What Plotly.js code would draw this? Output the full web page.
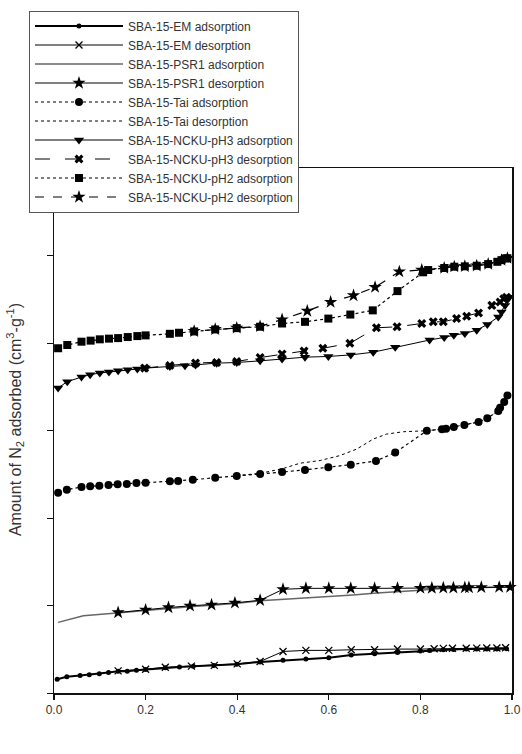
<!DOCTYPE html>
<html>
<head>
<meta charset="utf-8">
<script src="https://cdn.plot.ly/plotly-3.0.1.min.js"></script>
<style>
  html, body { margin: 0; padding: 0; background: #ffffff; }
  #chart { width: 522px; height: 754px; }
</style>
</head>
<body>
<div id="chart"></div>
<script>
// ---------- data (relative pressure P/P0, amount adsorbed in arbitrary units) ----------
const seriesNames = [
  "SBA-15-EM adsorption",
  "SBA-15-EM desorption",
  "SBA-15-PSR1 adsorption",
  "SBA-15-PSR1 desorption",
  "SBA-15-Tai adsorption",
  "SBA-15-Tai desorption",
  "SBA-15-NCKU-pH3 adsorption",
  "SBA-15-NCKU-pH3 desorption",
  "SBA-15-NCKU-pH2 adsorption",
  "SBA-15-NCKU-pH2 desorption"
];

const emAdsX = [0.007,0.028,0.057,0.077,0.099,0.119,0.14,0.16,0.18,0.20,0.243,0.274,0.304,0.349,0.399,0.45,0.50,0.55,0.60,0.649,0.70,0.75,0.80,0.82,0.85,0.872,0.90,0.923,0.945,0.967,0.988];
const emAdsY = [15.8,18.5,20,21,22,23.4,24.9,25,26,26.8,29,29.8,30.5,31.3,32.8,35.5,37.4,38.9,40.4,43.4,44.9,46.4,47.9,48.7,49.4,49.8,50.2,50.2,50.3,50.4,50.5];

const emDesX = [0.986,0.967,0.945,0.923,0.90,0.87,0.85,0.83,0.80,0.75,0.70,0.649,0.60,0.55,0.50,0.45,0.40,0.35,0.30,0.243,0.20,0.14];
const emDesY = [51.7,51.5,51.4,51.3,51.2,51.1,51.0,50.6,50.2,50.2,49.4,49.4,48.7,48.7,47.5,36.0,33.3,31.6,30.7,29.4,27.2,25.3];

const psrAdsX = [0.009,0.035,0.064,0.137,0.20,0.25,0.297,0.344,0.395,0.45,0.51,0.552,0.603,0.653,0.705,0.755,0.80,0.828,0.90,0.996];
const psrAdsY = [80.7,84.5,88.3,91.4,94.7,96.6,98.5,100.4,102.2,105.3,107.2,108.3,110.6,112,114.3,115.8,117.4,118.9,120.3,121.1];

const psrDesX = [0.996,0.972,0.933,0.906,0.897,0.872,0.85,0.825,0.80,0.75,0.70,0.648,0.60,0.55,0.50,0.45,0.395,0.344,0.297,0.25,0.20,0.14];
const psrDesY = [121,121,120.8,120.6,120.5,120.3,120.2,120,119.8,119.8,119.6,119.6,119.6,119.6,118.5,106,103,100.8,99.6,97.7,95,92];

const taiAdsX = [0.009,0.028,0.06,0.079,0.099,0.119,0.139,0.159,0.18,0.20,0.253,0.271,0.303,0.352,0.399,0.45,0.498,0.548,0.599,0.648,0.703,0.745,0.814,0.847,0.856,0.873,0.896,0.927,0.946,0.97,0.974,0.983,0.99];
const taiAdsY = [229,232.4,235.5,236.3,237,237.7,238.5,238.9,240,240.3,241.9,242.3,243.7,246,247.9,250.2,252.5,255,258,261,265.2,274.8,299.7,301.5,302,304,306.3,309.7,313.9,322.3,326,332.5,340];

const taiDesX = [0.99,0.983,0.97,0.946,0.927,0.896,0.873,0.847,0.814,0.763,0.726,0.697,0.661,0.624,0.581,0.537,0.50,0.45,0.40];
const taiDesY = [340,332.5,322.3,313.9,309.7,306.3,304,301.5,299.7,298.6,295.9,290.2,278.8,271.3,265.7,262.6,256.5,251,248.5];

const ph3AdsX = [0.009,0.029,0.06,0.079,0.10,0.12,0.14,0.161,0.182,0.20,0.253,0.286,0.309,0.355,0.399,0.45,0.498,0.548,0.599,0.648,0.697,0.745,0.82,0.852,0.873,0.897,0.923,0.946,0.97,0.977,0.985,0.99,0.993];
const ph3AdsY = [348.7,355.8,361.1,363.8,365.7,366.8,368.3,369.4,370.2,371.3,373.2,373.9,375,377,377.7,379.6,381.8,383.8,384.6,386.4,389.5,395.1,403.4,406.4,409,411,414.7,421.1,429.8,435.4,443,449.4,452.4];

const ph3DesX = [0.988,0.982,0.974,0.956,0.927,0.901,0.879,0.85,0.828,0.803,0.749,0.704,0.646,0.587,0.546,0.498,0.45,0.399,0.355,0.309,0.253,0.198];
const ph3DesY = [452.4,450.6,446.9,443,434.4,430.5,427.9,424.2,424.2,422.3,418.5,417.4,399.6,394,390.8,387.5,383.4,378.9,377.7,377,374.4,371.3];

const ph2AdsX = [0.009,0.029,0.06,0.08,0.10,0.12,0.14,0.161,0.182,0.20,0.253,0.273,0.306,0.352,0.399,0.45,0.498,0.548,0.599,0.647,0.696,0.75,0.806,0.817,0.852,0.874,0.897,0.923,0.948,0.968,0.977,0.985,0.99];
const ph2AdsY = [394,397.7,401.5,402.7,404.2,405,405.6,406.8,407.9,408.7,410.5,411.7,413.2,415.5,417,418.6,422.3,424.2,427.9,432.5,437.3,459.3,480.8,483.4,485.7,487.2,487.6,488.3,490.2,492.8,494.7,496.6,496.9];

const ph2DesX = [0.99,0.977,0.948,0.923,0.897,0.874,0.852,0.803,0.754,0.701,0.654,0.604,0.553,0.498,0.45,0.399,0.352,0.306];
const ph2DesY = [496.9,494.7,490.2,488.3,487.6,487.2,485.7,483.4,481.5,463.8,454.3,446.8,436.6,426.8,419,417.2,415.7,413.4];

const yTitle = "Amount of N<sub>2</sub> adsorbed (cm<sup>3</sup>-g<sup>-1</sup>)";

// ---------- styles ----------
const K = "#000000";
function mk(i, x, y, line, marker) {
  const t = {
    type: "scatter", x: x, y: y, name: seriesNames[i],
    mode: marker ? "lines+markers" : "lines",
    line: Object.assign({ color: K, width: 1, shape: "linear" }, line),
    cliponaxis: false
  };
  if (marker) t.marker = Object.assign({ color: K }, marker);
  return t;
}

const traces = [
  mk(0, emAdsX, emAdsY, { width: 2 }, { symbol: "circle", size: 5 }),
  mk(1, emDesX, emDesY, { width: 1 }, { symbol: "x-thin", size: 7, line: { color: K, width: 1.3 } }),
  mk(2, psrAdsX, psrAdsY, { width: 1.5, color: "#666666" }, null),
  mk(3, psrDesX, psrDesY, { width: 1 }, { symbol: "star", size: 10 }),
  mk(4, taiAdsX, taiAdsY, { width: 1.2, dash: "dot" }, { symbol: "circle", size: 8 }),
  mk(5, taiDesX, taiDesY, { width: 1, dash: "dot" }, null),
  mk(6, ph3AdsX, ph3AdsY, { width: 1 }, { symbol: "triangle-down", size: 9 }),
  mk(7, ph3DesX, ph3DesY, { width: 1, dash: "longdash" }, { symbol: "x", size: 8 }),
  mk(8, ph2AdsX, ph2AdsY, { width: 1.2, dash: "dot" }, { symbol: "square", size: 8 }),
  mk(9, ph2DesX, ph2DesY, { width: 1.2, dash: "dash" }, { symbol: "star", size: 10 })
];

const layout = {
  width: 522, height: 754,
  margin: { l: 54, r: 10, t: 163, b: 61, pad: 0 },
  paper_bgcolor: "#ffffff", plot_bgcolor: "#ffffff",
  font: { family: "Liberation Sans, Arial, sans-serif", size: 12, color: "#333333" },
  showlegend: true,
  legend: {
    x: -0.0546, y: 1.3, xanchor: "left", yanchor: "top",
    bgcolor: "#ffffff", bordercolor: "#555555", borderwidth: 1,
    font: { size: 12, color: "#333333" },
    itemwidth: 88, traceorder: "normal", tracegroupgap: 0
  },
  xaxis: {
    range: [0, 1], dtick: 0.2, tick0: 0, tickformat: ".1f",
    showline: true, linecolor: "#111111", linewidth: 1.5, mirror: true,
    ticks: "outside", ticklen: 5, tickwidth: 1.2, tickcolor: "#111111",
    showgrid: false, zeroline: false,
    tickfont: { size: 12, color: "#333333" }
  },
  yaxis: {
    range: [0, 600], dtick: 100, tick0: 0, showticklabels: false,
    showline: true, linecolor: "#111111", linewidth: 1.5, mirror: true,
    ticks: "outside", ticklen: 6, tickwidth: 1, tickcolor: "#111111",
    showgrid: false, zeroline: false
  },
  annotations: [{
    text: yTitle, xref: "paper", yref: "paper",
    x: -0.085, y: 0.52, xanchor: "center", yanchor: "middle",
    textangle: -90, showarrow: false,
    font: { size: 16, color: "#333333" }
  }]
};

Plotly.newPlot("chart", traces, layout, { staticPlot: true, displayModeBar: false });
</script>
</body>
</html>
